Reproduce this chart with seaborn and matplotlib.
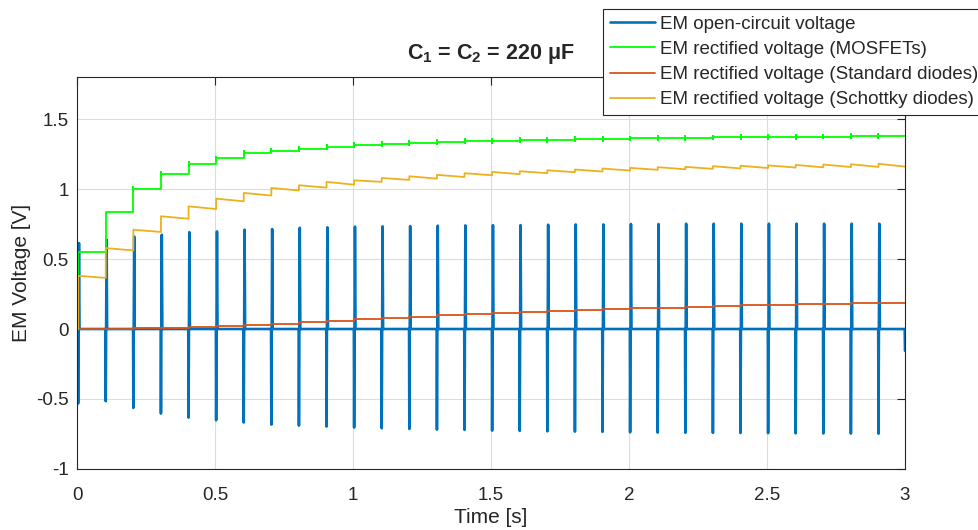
import numpy as np
import pandas as pd
import matplotlib
matplotlib.use("Agg")
import matplotlib.pyplot as plt
import seaborn as sns

# spike / switching instants (s)
SPIKE_T = [0.004, 0.104, 0.204, 0.304, 0.404, 0.504, 0.604, 0.704, 0.804, 0.904,
           1.004, 1.104, 1.204, 1.304, 1.404, 1.504, 1.604, 1.704, 1.804, 1.904,
           2.004, 2.104, 2.204, 2.304, 2.404, 2.504, 2.604, 2.704, 2.804, 2.904]
T_END = 3.0

# EM open-circuit voltage: negative and positive peak of each spike
OC_NEG = [-0.532, -0.516, -0.564, -0.604, -0.633, -0.652, -0.668, -0.683, -0.690, -0.697,
          -0.704, -0.709, -0.714, -0.719, -0.721, -0.726, -0.728, -0.731, -0.733, -0.735,
          -0.738, -0.740, -0.741, -0.742, -0.743, -0.744, -0.745, -0.746, -0.747, -0.748]
OC_POS = [0.614, 0.638, 0.661, 0.673, 0.692, 0.697, 0.709, 0.714, 0.723, 0.726,
          0.731, 0.733, 0.735, 0.738, 0.740, 0.742, 0.742, 0.745, 0.747, 0.747,
          0.750, 0.750, 0.752, 0.752, 0.752, 0.752, 0.752, 0.752, 0.752, 0.752]
OC_LAST = -0.155

# rectified voltage, MOSFETs (step level after each spike)
MOS = [0.547, 0.836, 1.003, 1.108, 1.177, 1.218, 1.254, 1.275, 1.289, 1.301,
       1.313, 1.323, 1.330, 1.335, 1.340, 1.344, 1.347, 1.349, 1.354, 1.356,
       1.361, 1.363, 1.366, 1.368, 1.370, 1.372, 1.374, 1.375, 1.377, 1.378]
MOS_BLIP = 0.014

# rectified voltage, standard diodes
STD = [0.000, 0.002, 0.006, 0.010, 0.017, 0.024, 0.031, 0.038, 0.048, 0.057,
       0.069, 0.079, 0.088, 0.098, 0.107, 0.117, 0.124, 0.131, 0.136, 0.143,
       0.148, 0.153, 0.158, 0.165, 0.169, 0.173, 0.177, 0.181, 0.185, 0.188]

# rectified voltage, Schottky diodes: peak after each spike and value just before the next one
SCH_PEAK = [0.380, 0.578, 0.709, 0.805, 0.876, 0.931, 0.972, 1.008, 1.027, 1.051,
            1.062, 1.079, 1.091, 1.101, 1.113, 1.122, 1.127, 1.134, 1.139, 1.146,
            1.151, 1.156, 1.158, 1.163, 1.166, 1.169, 1.172, 1.175, 1.177, 1.180]
SCH_END = [0.365, 0.561, 0.693, 0.788, 0.857, 0.912, 0.953, 0.989, 1.010, 1.031,
           1.051, 1.065, 1.074, 1.086, 1.098, 1.106, 1.113, 1.120, 1.125, 1.132,
           1.137, 1.141, 1.144, 1.147, 1.150, 1.153, 1.155, 1.157, 1.158, 1.160]

LABELS = ["EM open-circuit voltage",
          "EM rectified voltage (MOSFETs)",
          "EM rectified voltage (Standard diodes)",
          "EM rectified voltage (Schottky diodes)"]
COLORS = ["#0072BD", "#00FF00", "#D95319", "#EDB120"]


def open_circuit():
    t, v = [0.0], [0.0]
    for tk, lo, hi in zip(SPIKE_T, OC_NEG, OC_POS):
        t += [tk - 0.001, tk, tk + 0.003, tk + 0.005]
        v += [0.0, lo, hi, 0.0]
    t += [T_END - 0.001, T_END]
    v += [0.0, OC_LAST]
    return t, v


def steps(levels, blip=0.0):
    t, v = [0.0], [0.0]
    prev = 0.0
    for i, (tk, lev) in enumerate(zip(SPIKE_T, levels)):
        t.append(tk)
        v.append(prev)
        if blip and i > 1:
            t += [tk, tk]
            v += [lev + blip, lev - blip]
        t.append(tk)
        v.append(lev)
        prev = lev
    t.append(T_END)
    v.append(prev)
    return t, v


def sawtooth(peaks, ends):
    t, v = [0.0, SPIKE_T[0]], [0.0, 0.0]
    nxt = SPIKE_T[1:] + [T_END]
    for tk, tn, p, e in zip(SPIKE_T, nxt, peaks, ends):
        t += [tk, tn]
        v += [p, e]
    return t, v


frames = []
for lab, (t, v) in zip(LABELS, [open_circuit(), steps(MOS, MOS_BLIP), steps(STD),
                                sawtooth(SCH_PEAK, SCH_END)]):
    frames.append(pd.DataFrame({"t": t, "v": v, "series": lab}))
df = pd.concat(frames, ignore_index=True)

sns.set_style("white")
plt.rcParams["font.family"] = ["Liberation Sans", "DejaVu Sans"]
plt.rcParams["mathtext.fontset"] = "custom"
plt.rcParams["mathtext.rm"] = "Liberation Sans"
plt.rcParams["mathtext.bf"] = "Liberation Sans:bold"

fig, ax = plt.subplots(figsize=(9.79, 5.30), dpi=100)
fig.subplots_adjust(left=0.0787, right=0.9244, bottom=0.1151, top=0.8547)

widths = [1.9, 1.3, 1.3, 1.3]
for lab, col, lw in zip(LABELS, COLORS, widths):
    sns.lineplot(data=df[df["series"] == lab], x="t", y="v", ax=ax, color=col,
                 linewidth=lw, estimator=None, sort=False, label=lab)

ax.set_xlim(0, 3)
ax.set_ylim(-1, 1.8)
ax.set_xticks([0, 0.5, 1, 1.5, 2, 2.5, 3])
ax.set_xticklabels(["0", "0.5", "1", "1.5", "2", "2.5", "3"])
ax.set_yticks([-1, -0.5, 0, 0.5, 1, 1.5])
ax.set_yticklabels(["-1", "-0.5", "0", "0.5", "1", "1.5"])
ax.grid(True, color="#dcdcdc", linewidth=0.8)
ax.tick_params(direction="in", length=5.8, width=0.8, top=True, right=True,
               labelsize=13.5, colors="#262626", pad=6)
ax.tick_params(axis="x", pad=13)
for sp in ax.spines.values():
    sp.set_color("#262626")
    sp.set_linewidth(0.8)

ax.set_xlabel("Time [s]", fontsize=15, color="#262626", labelpad=3)
ax.set_ylabel("EM Voltage [V]", fontsize=15, color="#262626")
ax.set_title(r"C$_\mathbf{1}$ = C$_\mathbf{2}$ = 220 μF", fontsize=15.5,
             fontweight="bold", pad=13)

leg = ax.legend(loc="upper left", bbox_to_anchor=(603 / 979, 1 - 9 / 530),
                bbox_transform=fig.transFigure, fontsize=13.5, frameon=True,
                fancybox=False, framealpha=1, edgecolor="#262626",
                handlelength=2.45, handletextpad=0.22, borderpad=0.35,
                labelspacing=0.43, borderaxespad=0)
leg.get_frame().set_linewidth(0.8)

fig.savefig("out.png", dpi=100)
